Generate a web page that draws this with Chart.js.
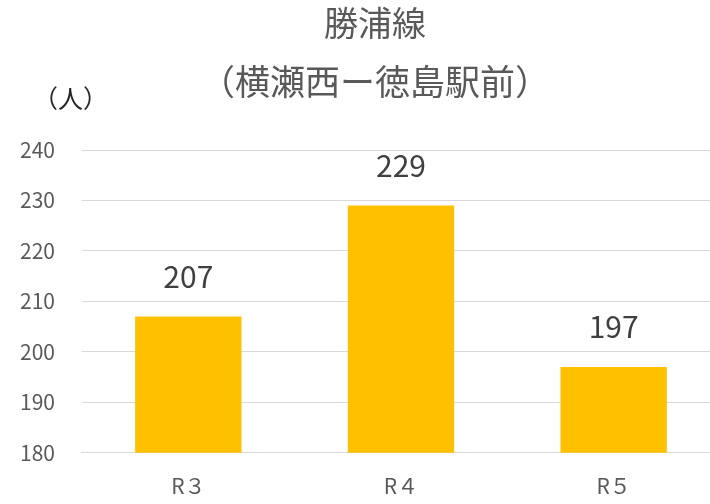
<!DOCTYPE html>
<html lang="ja">
  <head>
    <meta charset="utf-8" />
    <title>勝浦線</title>
    <style>
      html, body {
        margin: 0;
        padding: 0;
        overflow: hidden;
        background: #fff;
      }
    </style>
  </head>
  <body>
    <canvas id="chart" width="720" height="504"></canvas>
    <script src="https://cdn.jsdelivr.net/npm/chart.js"></script>
    <script>
      const categories = ["R３", "R４", "R５"];
      const riders = [207, 229, 197];
      const titleLines = ["勝浦線", "（横瀬西ー徳島駅前）"];
      const unitLabel = "（人）";

      const FONT = "'Noto Sans CJK JP', 'Noto Sans', sans-serif";

      // title, unit and the numbers above each bar
      const textPlugin = {
        id: "texts",
        afterDraw(chart) {
          const ctx = chart.ctx;
          ctx.save();
          ctx.textBaseline = "middle";
          ctx.fillStyle = "#595959";
          ctx.textAlign = "center";
          ctx.font = "34px " + FONT;
          ctx.fillText(titleLines[0], 375, 23);
          ctx.font = "35px " + FONT;
          ctx.fillText(titleLines[1], 375, 82);

          ctx.fillStyle = "#262626";
          ctx.font = "25px " + FONT;
          ctx.textAlign = "left";
          ctx.fillText(unitLabel, 33, 98);

          ctx.fillStyle = "#404040";
          ctx.font = "30px " + FONT;
          ctx.textAlign = "center";
          const meta = chart.getDatasetMeta(0);
          meta.data.forEach((bar, i) => {
            ctx.fillText(String(riders[i]), bar.x, bar.y - 40);
          });
          ctx.restore();
        },
      };

      new Chart(document.getElementById("chart"), {
        type: "bar",
        data: {
          labels: categories,
          datasets: [
            {
              data: riders,
              backgroundColor: "#FFC000",
              barPercentage: 0.5,
              categoryPercentage: 1,
            },
          ],
        },
        options: {
          responsive: false,
          animation: false,
          layout: {
            padding: { top: 150, left: -7, right: 0, bottom: -16 },
          },
          plugins: {
            legend: { display: false },
            tooltip: { enabled: false },
          },
          scales: {
            x: {
              grid: { display: false, drawTicks: false },
              border: { color: "#d9d9d9", width: 1 },
              ticks: {
                color: "#595959",
                font: { family: FONT, size: 21 },
                padding: 21,
              },
            },
            y: {
              min: 180,
              max: 240,
              ticks: {
                stepSize: 10,
                color: "#595959",
                font: { family: FONT, size: 21 },
                padding: 27,
              },
              grid: { color: "#d9d9d9", drawTicks: false },
              border: { display: false },
            },
          },
        },
        plugins: [textPlugin],
      });
    </script>
  </body>
</html>
